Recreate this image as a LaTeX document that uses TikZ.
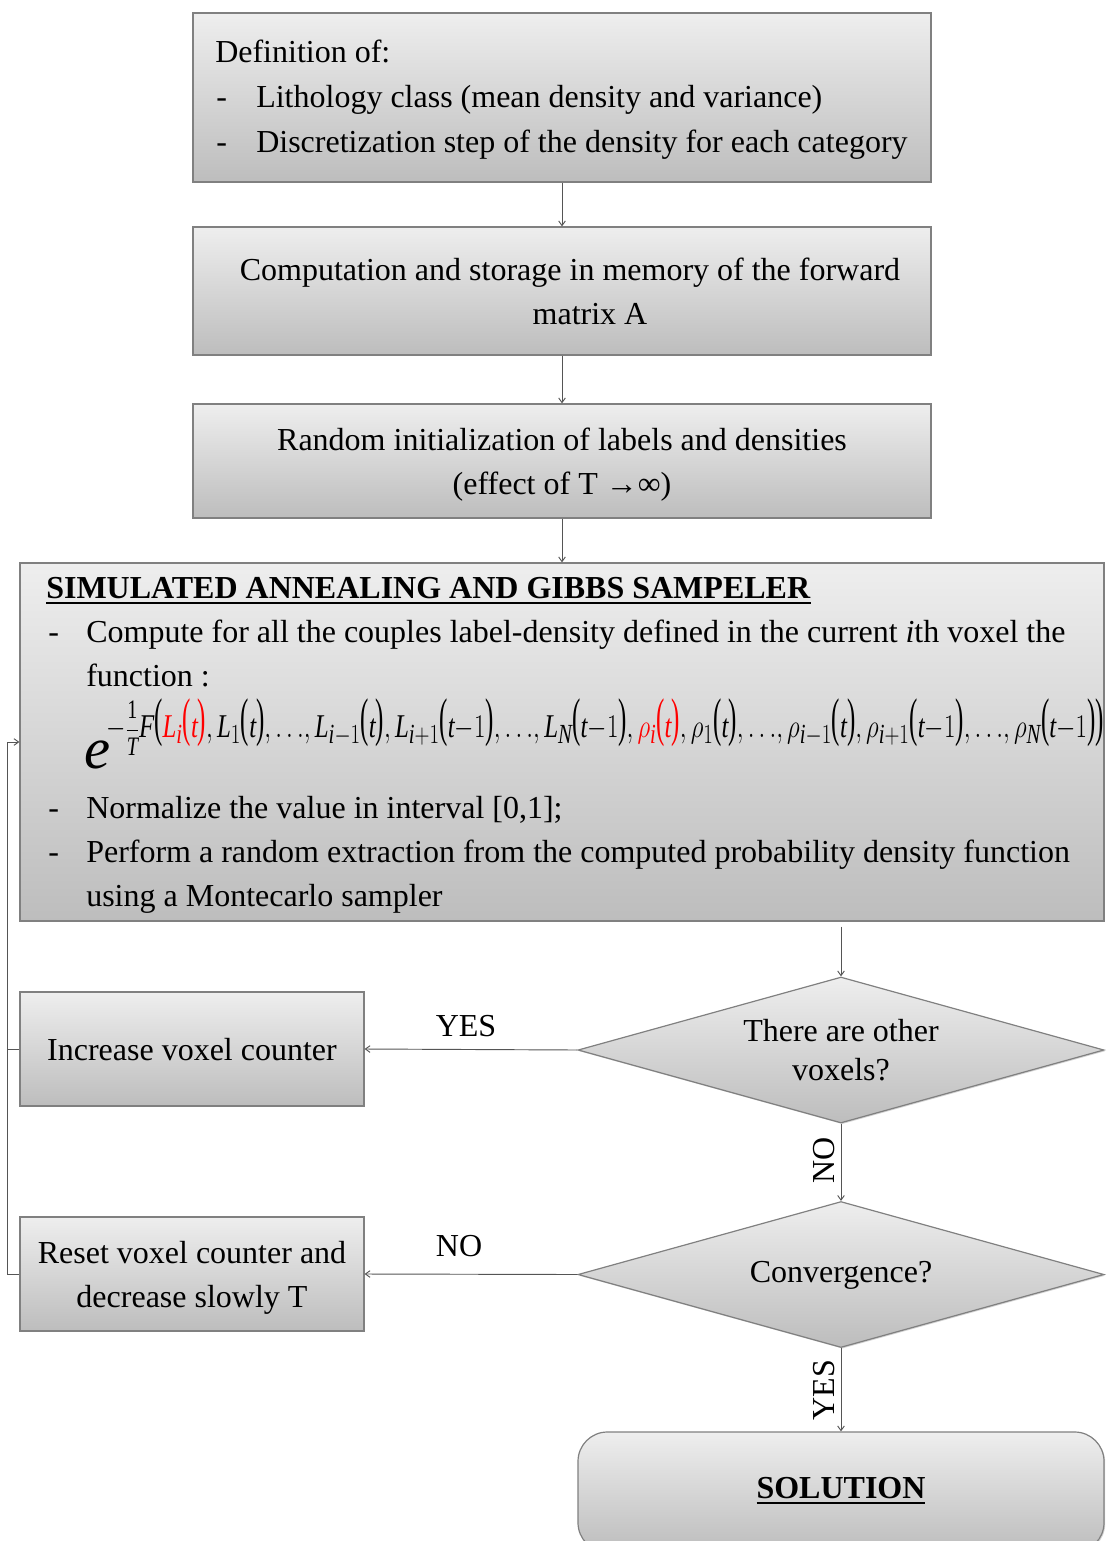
\documentclass[tikz,border=0pt]{standalone}
\usepackage{amsmath}
\usepackage{fontspec}
\setmainfont{Liberation Serif}
\usepackage{graphicx}
\usetikzlibrary{arrows.meta,shapes.geometric,fit,shadows}

\definecolor{edge}{HTML}{808080}
\definecolor{wire}{HTML}{555555}
\definecolor{topc}{HTML}{EEEEEE}
\definecolor{botc}{HTML}{BDBDBD}
\definecolor{hot}{HTML}{FF0000}

% italic variable in the serif text face
\newcommand\vv[1]{\textit{#1}}
% tall, slim parentheses
\newcommand\lpar{\raisebox{0.04em}{\scalebox{1}[1.6]{(}}}
\newcommand\rpar{\raisebox{0.04em}{\scalebox{1}[1.6]{)}}}
\newcommand\pp[1]{\lpar#1\rpar}
\newcommand\cm{\mathpunct{,}}
\newcommand\dts{\mathord{\ldotp\ldotp\ldotp}}
% the 1/T factor, set a little smaller than the rest of the exponent
\newcommand\invT{\mbox{\fontsize{20}{24}\selectfont$\displaystyle\frac{\mathrm{1}}{\vv{T}}$}}

\tikzset{
  panel/.style={draw=edge, line width=0.9pt, top color=topc, bottom color=botc,
    inner sep=0pt,
    drop shadow={shadow xshift=0.9pt, shadow yshift=-0.9pt, opacity=0.35}},
  rhomb/.style={panel, diamond, minimum width=394.5pt, minimum height=109.5pt},
  txt/.style={inner sep=0pt, font=\fontsize{24}{28}\selectfont},
  flow/.style={draw=wire, line width=0.7pt, -{Straight Barb[length=3.5pt,width=5pt]}},
  plain/.style={draw=wire, line width=0.7pt},
}

\begin{document}
\begin{tikzpicture}[x=0.75pt, y=-0.75pt]
\useasboundingbox (0,0) rectangle (1107,1541);

% ---------- boxes ----------
\node[panel, fit={(193,13) (931,182)}] (def) {};
\node[panel, fit={(193,227) (931,355)}] (mat) {};
\node[panel, fit={(193,404) (931,518)}] (ini) {};
\node[panel, fit={(20,563) (1104,921)}] (sa) {};
\node[panel, fit={(20,992) (364,1106)}] (inc) {};
\node[panel, fit={(20,1217) (364,1331)}] (rst) {};
\node[panel, rounded corners=22pt, fit={(578,1432) (1104,1552)}] (sol) {};
\node[rhomb] (vox) at (841,1050) {};
\node[rhomb] (cnv) at (841,1274.5) {};

% ---------- box texts ----------
\node[txt, anchor=base west] (d0) at (215,63) {Definition of:};
\node[txt, anchor=base west] (d1m) at (216,108) {-};
\node[txt, anchor=base west] (d1) at (256,108) {Lithology class (mean density and variance)};
\node[txt, anchor=base west] (d2m) at (216,152) {-};
\node[txt, anchor=base west] (d2) at (256,152) {Discretization step of the density for each category};

\node[txt, anchor=base] (m1) at (570,280) {Computation and storage in memory of the forward};
\node[txt, anchor=base] (m2) at (590,324) {matrix A};

\node[txt, anchor=base] (i1) at (562,450) {Random initialization of labels and densities};
\node[txt, anchor=base] (i2) at (562,494) {(effect of T →∞)};

\node[txt, anchor=base west] (s0) at (46,598) {\underline{\textbf{SIMULATED ANNEALING AND GIBBS SAMPELER}}};
\node[txt, anchor=base west] (s1m) at (48,642) {-};
\node[txt, anchor=base west] (s1) at (86,642) {Compute for all the couples label-density defined in the current \textit{i}th voxel the};
\node[txt, anchor=base west] (s1b) at (86,686) {function :};
\node[txt, anchor=base west] (fe) at (84,768) {\fontsize{44}{44}\selectfont\textit{e}};
\node[txt, anchor=base west] (fx) at (106,737) {\fontsize{24.88}{30}\selectfont\resizebox{748pt}{\height}{$-\invT\vv{F}\pp{\textcolor{hot}{\vv{L}_{\vv{i}}\pp{\vv{t}}}\cm\vv{L}_1\pp{\vv{t}}\cm\dts\cm\vv{L}_{\vv{i}-1}\pp{\vv{t}}\cm\vv{L}_{\vv{i}+1}\pp{\vv{t}{-}1}\cm\dts\cm\vv{L}_{\vv{N}}\pp{\vv{t}{-}1}\cm\textcolor{hot}{\rho_{\vv{i}}\pp{\vv{t}}}\cm\rho_1\pp{\vv{t}}\cm\dts\cm\rho_{\vv{i}-1}\pp{\vv{t}}\cm\rho_{\vv{i}+1}\pp{\vv{t}{-}1}\cm\dts\cm\rho_{\vv{N}}\pp{\vv{t}{-}1}}$}};
\node[txt, anchor=base west] (s2m) at (48,818) {-};
\node[txt, anchor=base west] (s2) at (86,818) {Normalize the value in interval [0,1];};
\node[txt, anchor=base west] (s3m) at (48,862) {-};
\node[txt, anchor=base west] (s3) at (86,862) {Perform a random extraction from the computed probability density function};
\node[txt, anchor=base west] (s3b) at (86,906) {using a Montecarlo sampler};

\node[txt] (incl) at (192,1050) {Increase voxel counter};
\node[txt, anchor=base] (r1) at (192,1263) {Reset voxel counter and};
\node[txt, anchor=base] (r2) at (192,1307) {decrease slowly T};
\node[txt, anchor=base] (v1) at (841,1041) {There are other};
\node[txt, anchor=base] (v2) at (841,1080) {voxels?};
\node[txt] (cl) at (841,1275) {Convergence?};
\node[txt] (soll) at (841,1491) {\underline{\textbf{SOLUTION}}};

% ---------- branch labels ----------
\node[txt] (yes1) at (466,1026) {YES};
\node[txt] (no2) at (459,1246) {NO};
\node[txt, rotate=90] (no1) at (824,1160) {NO};
\node[txt, rotate=90] (yes2) at (824,1390) {YES};

% ---------- connectors ----------
\draw[flow] (def.south) -- (mat.north);
\draw[flow] (mat.south) -- (ini.north);
\draw[flow] (ini.south) -- (sa.north);
\draw[flow] (sa.south -| vox.north) ++(0,5) -- (vox.north);
\draw[flow] (vox.west) -- (inc.east);
\draw[flow] (vox.south) -- (cnv.north);
\draw[flow] (cnv.west) -- (rst.east);
\draw[flow] (cnv.south) -- (sol.north);
\draw[plain] (inc.west) -- ++(-12,0);
\draw[flow] (rst.west) -- ++(-12,0) |- (sa.west);
\end{tikzpicture}
\end{document}
